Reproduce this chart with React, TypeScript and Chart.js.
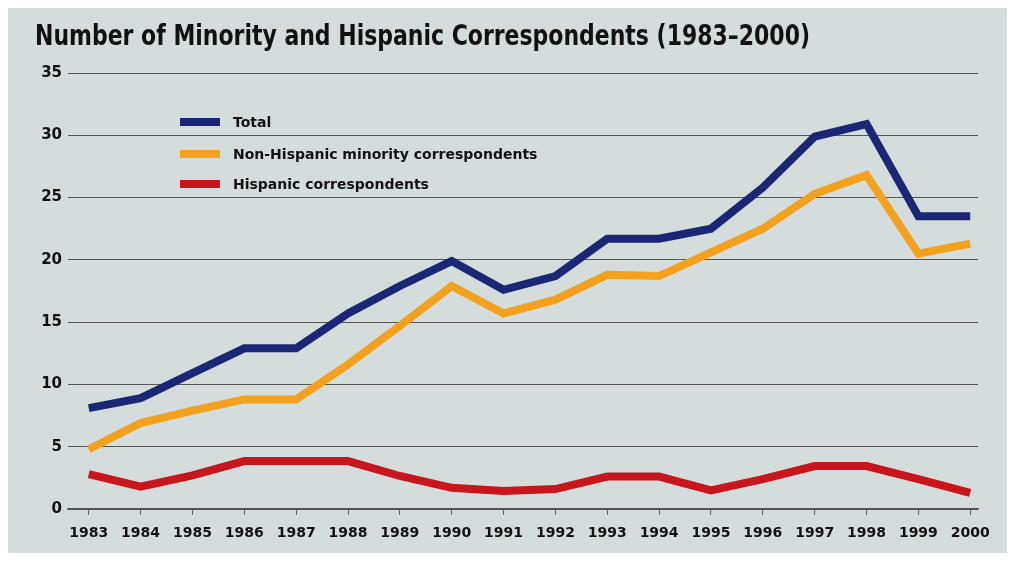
import React, { useEffect, useRef } from "react";
import { Chart, registerables } from "chart.js";

Chart.register(...registerables);

const years = [1983, 1984, 1985, 1986, 1987, 1988, 1989, 1990, 1991, 1992, 1993, 1994, 1995, 1996, 1997, 1998, 1999, 2000];
const total = [8.1, 8.9, 10.9, 12.9, 12.9, 15.7, 17.9, 19.9, 17.6, 18.7, 21.7, 21.7, 22.5, 25.8, 29.9, 30.9, 23.5, 23.5];
const nonHispanic = [4.8, 6.9, 7.9, 8.8, 8.8, 11.6, 14.7, 17.9, 15.7, 16.8, 18.8, 18.7, 20.6, 22.5, 25.3, 26.8, 20.5, 21.3];
const hispanic = [2.8, 1.8, 2.7, 3.85, 3.85, 3.85, 2.65, 1.7, 1.45, 1.6, 2.6, 2.6, 1.5, 2.4, 3.45, 3.45, 2.4, 1.3];
const yTicks = [0, 5, 10, 15, 20, 25, 30, 35];
const seriesLabels = ["Total", "Non-Hispanic minority correspondents", "Hispanic correspondents"];
const seriesColors = ["#1b2775", "#f2a21f", "#c8161d"];
const titleText = "Number of Minority and Hispanic Correspondents (1983–2000)";

const legendPlugin = {
  id: "customLegend",
  afterDatasetsDraw(chart: any) {
    const ctx = chart.ctx;
    ctx.save();
    const x0 = 172;
    const ys = [114, 146, 176];
    seriesLabels.forEach((lab, i) => {
      ctx.fillStyle = seriesColors[i];
      ctx.fillRect(x0, ys[i] - 4, 40, 8);
      ctx.fillStyle = "#111";
      ctx.font = "bold 14px 'DejaVu Sans', sans-serif";
      ctx.textBaseline = "middle";
      ctx.textAlign = "left";
      ctx.fillText(lab, x0 + 53, ys[i] + 1);
    });
    ctx.restore();
  },
};

const titlePlugin = {
  id: "customTitle",
  afterDraw(chart: any) {
    const ctx = chart.ctx;
    ctx.save();
    ctx.font = "bold 28px 'DejaVu Sans Condensed', 'DejaVu Sans', sans-serif";
    ctx.fillStyle = "#111";
    ctx.textBaseline = "alphabetic";
    ctx.textAlign = "left";
    const w = ctx.measureText(titleText).width;
    const target = 775;
    const sx = target / w;
    ctx.translate(27, 37);
    ctx.scale(sx, 1);
    ctx.fillText(titleText, 0, 0);
    ctx.restore();
  },
};

export default function App() {
  const ref = useRef<HTMLCanvasElement | null>(null);
  useEffect(() => {
    if (!ref.current) return;
    const mk = (arr: number[]) => arr.map((v, i) => ({ x: years[i], y: v }));
    const chart = new Chart(ref.current, {
      type: "line",
      data: {
        datasets: [
          { label: seriesLabels[0], data: mk(total), borderColor: seriesColors[0], backgroundColor: seriesColors[0] },
          { label: seriesLabels[1], data: mk(nonHispanic), borderColor: seriesColors[1], backgroundColor: seriesColors[1] },
          { label: seriesLabels[2], data: mk(hispanic), borderColor: seriesColors[2], backgroundColor: seriesColors[2] },
        ],
      },
      options: {
        animation: false,
        responsive: false,
        maintainAspectRatio: false,
        elements: {
          line: { borderWidth: 8, tension: 0, borderJoinStyle: "miter", borderCapStyle: "butt" },
          point: { radius: 0, hoverRadius: 0 },
        },
        layout: { padding: { left: 27, right: 29, top: 65, bottom: 0 } },
        plugins: {
          legend: { display: false },
          tooltip: { enabled: false },
          title: { display: false },
        },
        scales: {
          x: {
            type: "linear",
            min: 1982.6,
            max: 2000.15,
            afterBuildTicks: (scale: any) => {
              scale.ticks = years.map((v) => ({ value: v }));
            },
            afterFit: (scale: any) => {
              scale.height = 44;
            },
            grid: { drawOnChartArea: false, drawTicks: true, tickLength: 6, color: "#666", lineWidth: 1 },
            border: { display: true, color: "#555", width: 1.5 },
            ticks: {
              autoSkip: false,
              maxRotation: 0,
              padding: 10,
              color: "#111",
              font: { family: "'DejaVu Sans', sans-serif", size: 14, weight: "bold" },
              callback: (v: any) => String(v),
            },
          },
          y: {
            min: 0,
            max: 35,
            afterBuildTicks: (scale: any) => {
              scale.ticks = yTicks.map((v) => ({ value: v }));
            },
            afterFit: (scale: any) => {
              scale.width = 33;
            },
            grid: { drawTicks: false, color: "#555", lineWidth: 1 },
            border: { display: false },
            ticks: {
              padding: 6,
              color: "#111",
              font: { family: "'DejaVu Sans', sans-serif", size: 15, weight: "bold" },
            },
          },
        },
      },
      plugins: [legendPlugin, titlePlugin],
    } as any);
    return () => chart.destroy();
  }, []);
  return (
    <div style={{ width: 999, height: 545, background: "#d4dddb" }}>
      <canvas ref={ref} width={999} height={545} style={{ display: "block" }} />
    </div>
  );
}
